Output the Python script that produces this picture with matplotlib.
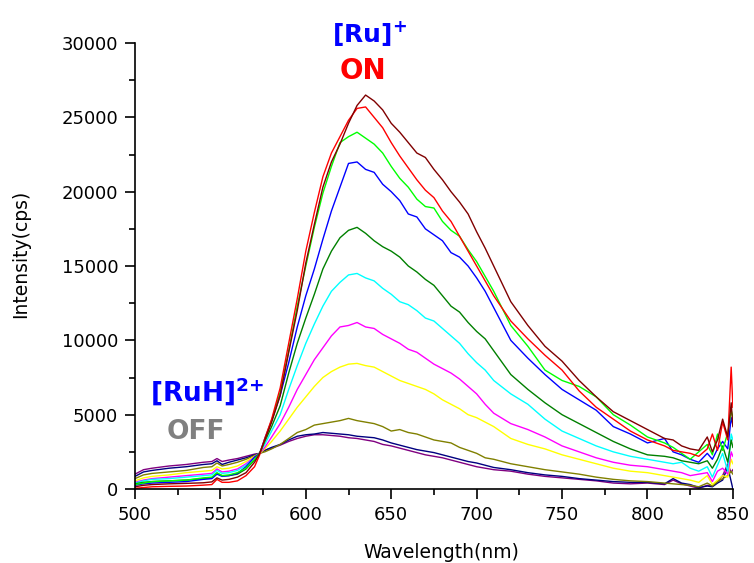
import matplotlib
matplotlib.use("Agg")
import matplotlib.pyplot as plt
from matplotlib.ticker import MultipleLocator

plt.rcParams['font.family'] = ['DejaVu Sans']
plt.rcParams['mathtext.fontset'] = 'dejavusans'

# wavelength grid (nm)
wavelength = [500, 505, 510, 520, 530, 540, 545, 548, 551, 555, 560, 565, 570,
              573, 576, 580, 585, 590, 595, 600, 605, 610, 615, 620, 625, 630,
              635, 640, 645, 650, 655, 660, 665, 670, 675, 680, 685, 690, 695,
              700, 705, 710, 720, 730, 740, 750, 760, 770, 780, 790, 800, 810,
              815, 820, 825, 830, 835, 838, 841, 844, 847, 849, 850]

# emission intensity (cps)
wine = [150, 250, 300, 350, 380, 420, 480, 750, 600, 650, 800, 1100, 1800,
        2400, 3300, 4500, 6300, 9200, 12000, 15200, 17800, 20300, 22000, 23200, 24600, 25800,
        26500, 26100, 25500, 24600, 24000, 23300, 22600, 22300, 21500, 20800, 20000, 19300, 18500,
        17300, 16200, 15000, 12600, 11000, 9600, 8600, 7300, 6200, 5200, 4600, 4000, 3400,
        3300, 2900, 2700, 2600, 3500, 2500, 3300, 4700, 3500, 5800, 4200]
red = [50, 100, 150, 180, 200, 260, 300, 650, 450, 450, 550, 900, 1500,
       2300, 3400, 4700, 6800, 9800, 12800, 16000, 18600, 21000, 22600, 23700, 24800, 25600,
       25700, 25000, 24300, 23300, 22400, 21600, 20800, 20100, 19600, 18700, 18000, 17000, 16000,
       15000, 14000, 13000, 11300, 10100, 9000, 8000, 6600, 5500, 4700, 3900, 3300, 2900,
       2600, 2500, 2400, 2200, 2700, 3700, 2600, 4500, 3300, 8200, 5500]
green = [300, 400, 500, 550, 600, 750, 800, 1100, 900, 950, 1100, 1400, 2000,
         2400, 3300, 4600, 6500, 9300, 12300, 15000, 17600, 19900, 21700, 23300, 23700, 24000,
         23600, 23200, 22600, 21700, 20900, 20300, 19500, 19000, 18900, 18000, 17400, 17000, 16100,
         15300, 14300, 13300, 11000, 9600, 8000, 7300, 6900, 6200, 5000, 4300, 3500, 3100,
         2800, 2400, 2000, 2500, 3000, 2300, 3700, 2600, 3800, 5300, 4800]
blue = [250, 350, 400, 450, 500, 650, 700, 1000, 850, 900, 1050, 1500, 2150,
        2400, 3400, 4600, 6300, 8500, 10900, 13000, 14800, 16800, 18700, 20300, 21900, 22000,
        21500, 21300, 20500, 20000, 19400, 18500, 18300, 17500, 17100, 16700, 15900, 15600, 15000,
        14200, 13300, 12200, 10000, 8800, 7700, 6700, 6000, 5300, 4200, 3700, 3100, 3400,
        2500, 2300, 2000, 1800, 2400, 2000, 2700, 3200, 2700, 4800, 4300]
dark_green = [350, 450, 500, 550, 600, 700, 750, 1050, 900, 900, 1000, 1350, 1950,
              2400, 3200, 4200, 5600, 7800, 9800, 11500, 13100, 14800, 16000, 16900, 17400, 17600,
              17200, 16700, 16300, 16000, 15600, 15000, 14600, 14100, 13700, 13000, 12300, 11900, 11200,
              10600, 10100, 9300, 7700, 6700, 5800, 5000, 4400, 3800, 3200, 2700, 2300, 2200,
              2100, 1900, 1800, 1700, 1900, 1400, 2000, 2900, 1800, 3300, 2800]
cyan = [400, 550, 650, 700, 800, 900, 950, 1250, 1050, 1100, 1250, 1600, 2100,
        2400, 3000, 3900, 5000, 6700, 8300, 9800, 11100, 12300, 13300, 13900, 14400, 14500,
        14200, 14000, 13500, 13100, 12600, 12400, 12000, 11500, 11300, 10800, 10300, 9800, 9100,
        8500, 8000, 7300, 6400, 5700, 4700, 3900, 3400, 2900, 2500, 2200, 2000, 1800,
        1700, 1800, 1400, 1200, 1500, 800, 1600, 2400, 1200, 3700, 3300]
magenta = [450, 600, 700, 800, 900, 1000, 1050, 1350, 1150, 1200, 1350, 1700, 2150,
           2400, 2800, 3500, 4400, 5500, 6700, 7700, 8700, 9500, 10300, 10900, 11000, 11200,
           10900, 10800, 10400, 10100, 9800, 9400, 9200, 8800, 8400, 8100, 7800, 7400, 6900,
           6400, 5700, 5100, 4400, 4000, 3500, 2900, 2500, 2100, 1800, 1600, 1500, 1300,
           1200, 1100, 900, 1000, 1100, 500, 1200, 1400, 1000, 2500, 2200]
yellow = [550, 750, 850, 950, 1100, 1200, 1250, 1500, 1350, 1400, 1550, 1850, 2200,
          2400, 2700, 3200, 3900, 4700, 5500, 6200, 6900, 7500, 7900, 8200, 8400, 8450,
          8300, 8200, 7900, 7600, 7300, 7100, 6900, 6700, 6400, 6000, 5700, 5400, 5000,
          4800, 4500, 4200, 3400, 3000, 2700, 2300, 2000, 1700, 1400, 1200, 1100, 900,
          800, 700, 600, 450, 900, 300, 600, 900, 800, 2000, 1700]
olive = [700, 950, 1050, 1150, 1250, 1450, 1500, 1750, 1550, 1650, 1800, 2000, 2250,
         2400, 2500, 2700, 3000, 3400, 3800, 4000, 4300, 4400, 4500, 4600, 4750, 4600,
         4500, 4400, 4200, 3900, 4000, 3800, 3700, 3500, 3300, 3200, 3100, 2800, 2600,
         2400, 2100, 2000, 1700, 1500, 1300, 1150, 1000, 800, 650, 550, 500, 400,
         350, 300, 250, 150, 400, 200, 500, 700, 900, 1200, 1000]
navy = [850, 1150, 1250, 1400, 1500, 1650, 1700, 1900, 1650, 1800, 1950, 2100, 2300,
        2400, 2600, 2800, 3000, 3300, 3550, 3650, 3700, 3800, 3750, 3700, 3650, 3550,
        3500, 3450, 3300, 3100, 2950, 2800, 2650, 2550, 2450, 2300, 2150, 2000, 1850,
        1750, 1600, 1450, 1300, 1100, 950, 850, 700, 600, 500, 450, 450, 350,
        700, 400, 300, 100, 200, 150, 400, 600, 1500, 500, 0]
purple = [1000, 1300, 1400, 1550, 1650, 1800, 1850, 2050, 1850, 1950, 2050, 2200, 2350,
          2400, 2600, 2750, 2950, 3200, 3400, 3550, 3650, 3650, 3600, 3550, 3450, 3400,
          3300, 3200, 3000, 2900, 2750, 2600, 2450, 2300, 2200, 2100, 1950, 1800, 1650,
          1500, 1400, 1300, 1200, 1000, 850, 750, 650, 550, 400, 350, 400, 300,
          600, 350, 200, 50, 250, 200, 500, 900, 1700, 1100, 1300]

series = [purple, navy, olive, yellow, magenta, cyan, dark_green, blue, green, red, wine]
colors = ['#800080', '#000080', '#808000', '#FFFF00', '#FF00FF', '#00FFFF',
          '#008000', '#0000FF', '#00FF00', '#FF0000', '#800000']

fig = plt.figure(figsize=(7.54, 5.63), dpi=100)
ax = fig.add_axes([0.179, 0.1314, 0.793, 0.7922])

for ys, c in zip(series, colors):
    ax.plot(wavelength, ys, color=c, lw=1.0)

ax.set_xlim(500, 850)
ax.set_ylim(0, 30000)
ax.xaxis.set_major_locator(MultipleLocator(50))
ax.xaxis.set_minor_locator(MultipleLocator(25))
ax.yaxis.set_major_locator(MultipleLocator(5000))
ax.yaxis.set_minor_locator(MultipleLocator(2500))
ax.spines['top'].set_visible(False)
ax.spines['right'].set_visible(False)
ax.spines['left'].set_linewidth(1.2)
ax.spines['bottom'].set_linewidth(1.2)
ax.tick_params(which='major', direction='out', length=7, width=1.2, labelsize=13, pad=5)
ax.tick_params(which='minor', direction='out', length=4, width=1.2)
ax.set_xlabel('Wavelength(nm)', fontsize=13.5)
ax.set_ylabel('Intensity(cps)', fontsize=13.5)
ax.xaxis.set_label_coords(0.512, -0.121)
ax.yaxis.set_label_coords(-0.176, 0.527)

# state labels
fig.text(0.490, 0.940, r'[Ru]$^{\mathbf{+}}$', color='#0000FF', fontsize=18,
         fontweight='bold', ha='center', va='center')
fig.text(0.481, 0.874, 'ON', color='#FF0000', fontsize=20,
         fontweight='bold', ha='center', va='center')
fig.text(0.274, 0.304, r'[RuH]$^{\mathbf{2{+}}}$', color='#0000FF', fontsize=19,
         fontweight='bold', ha='center', va='center')
fig.text(0.260, 0.232, 'OFF', color='#808080', fontsize=19,
         fontweight='bold', ha='center', va='center')

fig.savefig('out.png', dpi=100)
